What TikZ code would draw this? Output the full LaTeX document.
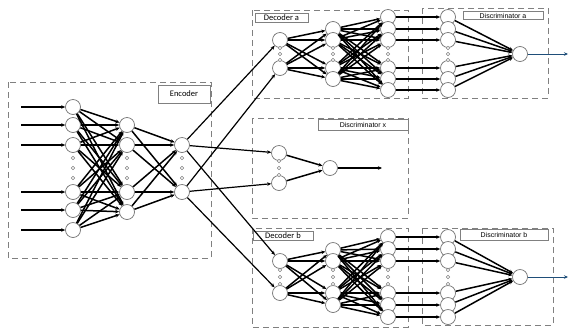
\documentclass[tikz,border=0pt]{standalone}
\usepackage{fontspec}
\setmainfont{Carlito}
\newfontfamily\arialfont{Liberation Sans}
\usetikzlibrary{positioning, arrows.meta}
\definecolor{outblue}{RGB}{31,78,121}

\tikzset{
  neuron/.style={circle, draw=gray!90!black, fill=white, line width=0.7pt, minimum size=15pt, inner sep=0pt},
  pip/.style={circle, draw=gray, fill=white, line width=0.5pt, minimum size=3.5pt, inner sep=0pt},
  block/.style={draw=gray, dash pattern=on 6pt off 4pt, line width=0.9pt},
  tag/.style={draw=gray, fill=white, line width=0.7pt, inner sep=0pt, font=\fontsize{8.5}{9}\selectfont},
  link/.style={-{Stealth[length=4pt, width=3.5pt]}, line width=1.5pt},
}

\begin{document}
\begin{tikzpicture}[x=1pt, y=-1pt]
    \useasboundingbox (0,0) rectangle (569,330);

    % dashed blocks
    \draw[block] (8,82) rectangle (211,258);    % encoder
    \draw[block] (252,10) rectangle (408,98);   % decoder a
    \draw[block] (422,8) rectangle (548,98);    % discriminator a
    \draw[block] (252,118) rectangle (408,218); % discriminator x
    \draw[block] (252,228) rectangle (408,327); % decoder b
    \draw[block] (422,228) rectangle (553,325); % discriminator b

    % block titles
    \node[tag, minimum width=52pt, minimum height=18pt] (enctag) at (184,94) {Encoder};
    \node[tag, minimum width=53pt, minimum height=9pt] (dectaga) at (281.5,17.5) {Decoder a};
    \node[tag, minimum width=80pt, minimum height=8pt, font=\arialfont\fontsize{7}{8}\selectfont] (distaga) at (503,15.5) {Discriminator a};
    \node[tag, minimum width=90pt, minimum height=11pt, font=\arialfont\fontsize{7}{8}\selectfont] (distagx) at (363,124.5) {Discriminator x};
    \node[tag, minimum width=60pt, minimum height=9pt] (dectagb) at (283,235.5) {Decoder b};
    \node[tag, minimum width=88pt, minimum height=11pt, font=\arialfont\fontsize{7}{8}\selectfont] (distagb) at (504,234.5) {Discriminator b};

    % encoder neurons
    \foreach \y [count=\i] in {107,125,145,192,210,230}
        \node[neuron] (e1-\i) at (73,\y) {};
    \foreach \y [count=\i] in {125,145,192,212}
        \node[neuron] (e2-\i) at (127,\y) {};
    \foreach \y [count=\i] in {145,192}
        \node[neuron] (e3-\i) at (182,\y) {};
    \foreach \x in {73,127,182}
        \foreach \y in {158,168,178}
            \node[pip] at (\x,\y) {};

    % decoder a neurons
    \foreach \y [count=\i] in {40,68}
        \node[neuron] (da1-\i) at (280,\y) {};
    \foreach \y [count=\i] in {29,40,68,79}
        \node[neuron] (da2-\i) at (333,\y) {};
    \foreach \y [count=\i] in {17,29,40,68,79,90}
        \node[neuron] (da3-\i) at (388,\y) {};
    % discriminator a neurons
    \foreach \y [count=\i] in {17,29,40,68,79,90}
        \node[neuron] (ca-\i) at (448,\y) {};
    \node[neuron] (ca-out) at (520,54) {};
    \foreach \x in {280,333,388,448}
        \foreach \y in {48,54,60}
            \node[pip] at (\x,\y) {};

    % discriminator x neurons
    \foreach \y [count=\i] in {153,183}
        \node[neuron] (cx-\i) at (279,\y) {};
    \node[neuron] (cx-out) at (330,168) {};
    \foreach \y in {161,168,175}
        \node[pip] at (279,\y) {};

    % decoder b neurons
    \foreach \y [count=\i] in {261,293}
        \node[neuron] (db1-\i) at (280,\y) {};
    \foreach \y [count=\i] in {250,261,293,305}
        \node[neuron] (db2-\i) at (333,\y) {};
    \foreach \y [count=\i] in {237,249,261,293,305,317}
        \node[neuron] (db3-\i) at (388,\y) {};
    % discriminator b neurons
    \foreach \y [count=\i] in {237,249,261,293,305,317}
        \node[neuron] (cb-\i) at (448,\y) {};
    \node[neuron] (cb-out) at (520,277) {};
    \foreach \x in {280,333,388,448}
        \foreach \y in {270,277,284}
            \node[pip] at (\x,\y) {};

    % free ends of the outputs
    \coordinate (ca-end) at (568,54);
    \coordinate (cx-end) at (382,168);
    \coordinate (cb-end) at (568,277);

    % encoder links
    \foreach \i in {1,...,6}
        \draw[link] ([xshift=-44pt]e1-\i.west) -- (e1-\i);
    \foreach \i in {1,...,6}
        \foreach \j in {1,...,4}
            \draw[link] (e1-\i) -- (e2-\j);
    \foreach \i in {1,...,4}
        \foreach \j in {1,2}
            \draw[link] (e2-\i) -- (e3-\j);

    % encoder to decoders and discriminator x
    \foreach \i in {1,2} {
        \draw[link, line width=1.2pt] (e3-\i) -- (da1-\i);
        \draw[link, line width=1.2pt] (e3-\i) -- (cx-\i);
        \draw[link, line width=1.2pt] (e3-\i) -- (db1-\i);
    }

    % decoder a and discriminator a links
    \foreach \i in {1,2}
        \foreach \j in {1,...,4}
            \draw[link] (da1-\i) -- (da2-\j);
    \foreach \i in {1,...,4}
        \foreach \j in {1,...,6}
            \draw[link] (da2-\i) -- (da3-\j);
    \foreach \i in {1,...,6} {
        \draw[link] (da3-\i) -- (ca-\i);
        \draw[link] (ca-\i) -- (ca-out);
    }
    \draw[link, draw=outblue, fill=outblue, line width=0.9pt] (ca-out) -- (ca-end);

    % discriminator x links
    \foreach \i in {1,2}
        \draw[link] (cx-\i) -- (cx-out);
    \draw[link, line width=1.2pt] (cx-out) -- (cx-end);

    % decoder b and discriminator b links
    \foreach \i in {1,2}
        \foreach \j in {1,...,4}
            \draw[link] (db1-\i) -- (db2-\j);
    \foreach \i in {1,...,4}
        \foreach \j in {1,...,6}
            \draw[link] (db2-\i) -- (db3-\j);
    \foreach \i in {1,...,6} {
        \draw[link] (db3-\i) -- (cb-\i);
        \draw[link] (cb-\i) -- (cb-out);
    }
    \draw[link, draw=outblue, fill=outblue, line width=0.9pt] (cb-out) -- (cb-end);
\end{tikzpicture}
\end{document}
